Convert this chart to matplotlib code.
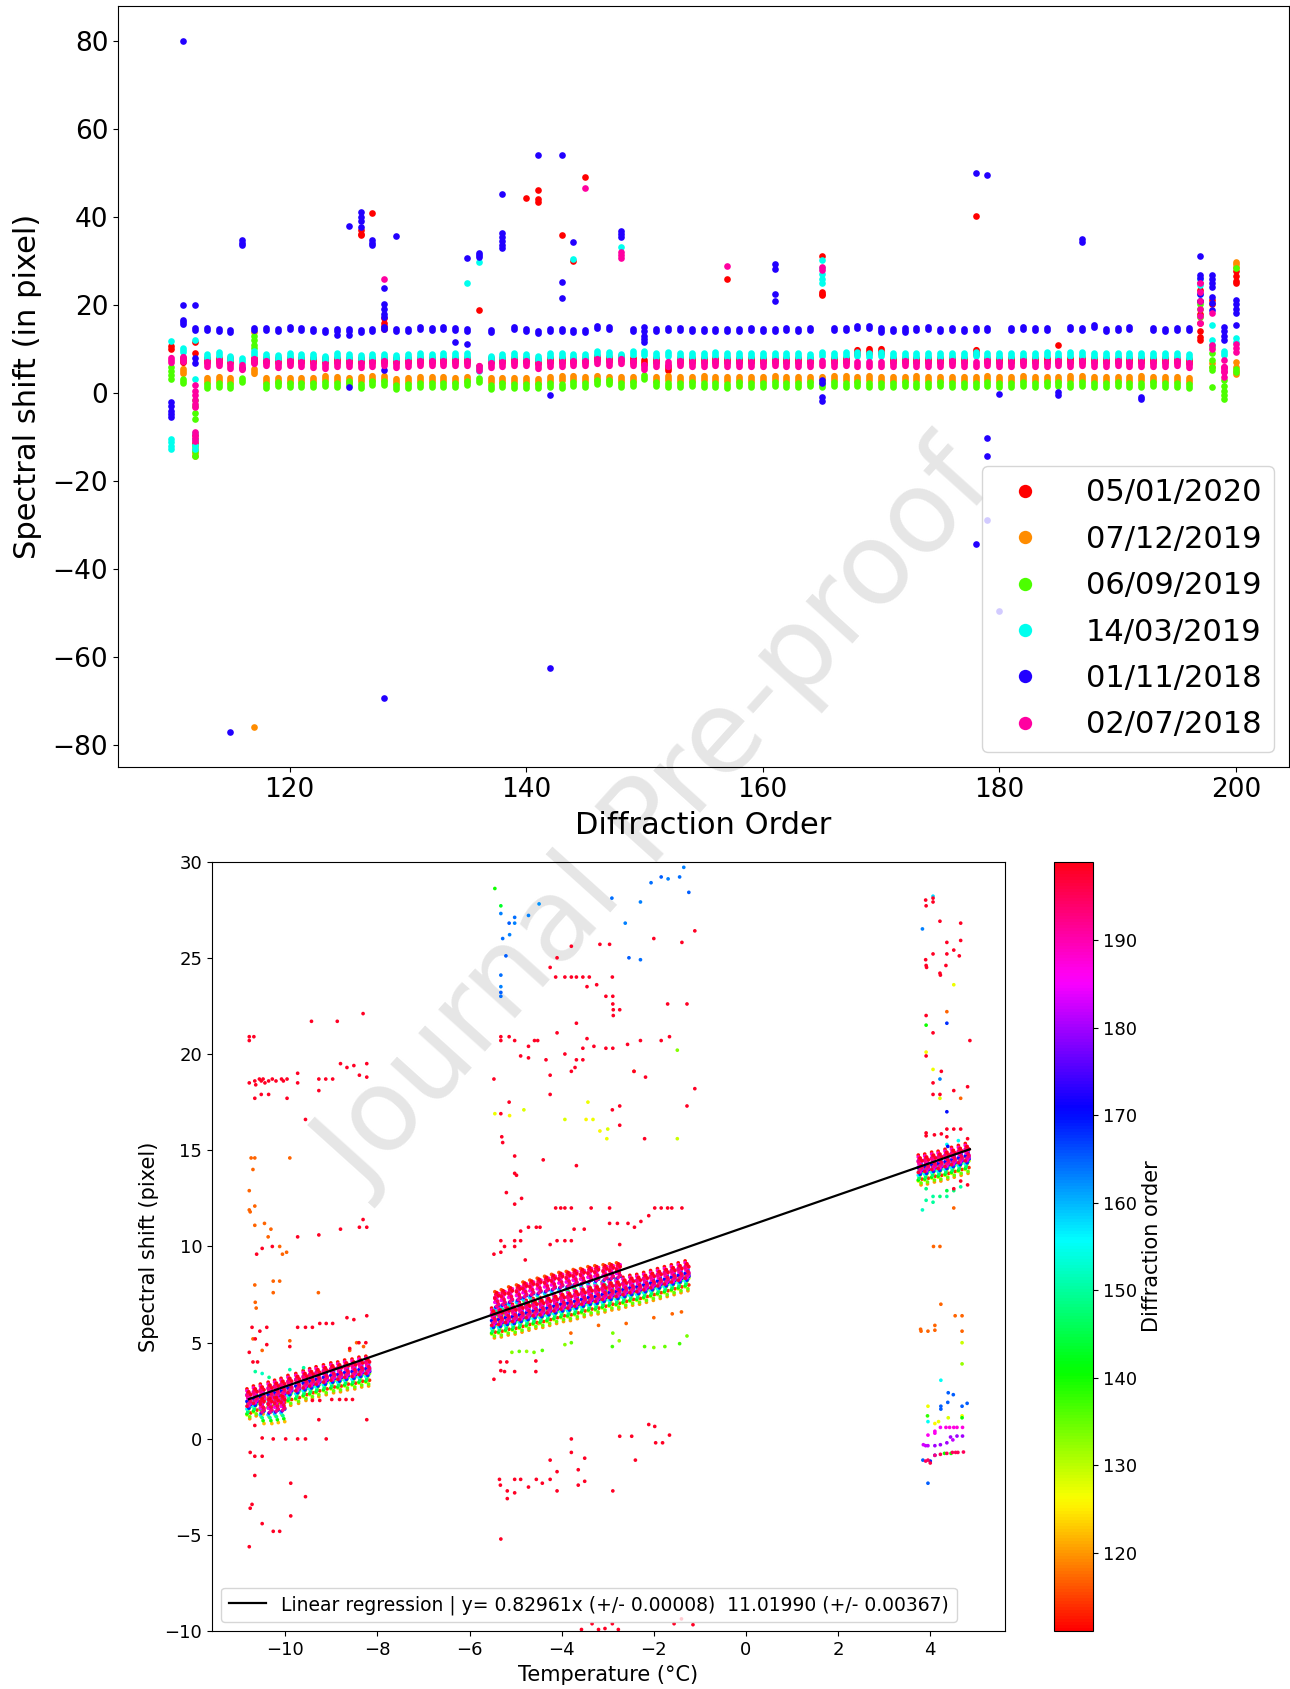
import numpy as np
import matplotlib
matplotlib.use('Agg')
import matplotlib.pyplot as plt
from matplotlib.path import Path
from matplotlib.lines import Line2D

nan = float('nan')

# ======================= TOP PANEL DATA =======================
orders = list(range(110, 201))
dates = ['05/01/2020', '07/12/2019', '06/09/2019', '14/03/2019', '01/11/2018', '02/07/2018']
series_colors = ['#ff0000', '#ff8c00', '#4cff00', '#00ffee', '#2200ff', '#ff00a0']

# main band value per diffraction order (110..200), one list per date
band_red = [nan, 7.6, nan, 7.5, 7.6, 7.4, nan, 7.6, 7.5, 7.5,
            7.6, 7.5, 7.4, 7.4, 7.6, 7.5, 7.4, 7.5, 7.6, 7.4,
            7.5, 7.6, 7.6, 7.6, 7.6, 7.6, nan, 7.4, 7.5, 7.6,
            7.6, 7.2, 7.5, 7.5, 7.5, 7.6, 7.9, 7.7, 7.9, 7.6,
            7.0, 7.5, 5.8, 7.6, 7.5, 7.5, 7.6, 7.4, 7.5, 7.5,
            7.5, 7.6, 7.5, 7.5, 7.4, nan, 7.5, 7.6, 9.4, 9.5,
            9.5, 7.4, 7.6, 7.5, 7.4, 7.5, 7.6, 7.5, 9.4, 7.6,
            7.5, 7.4, 7.6, 7.5, 7.5, 7.6, 7.5, 7.6, 7.4, 7.5,
            7.6, 7.5, 7.5, 7.4, 7.5, 7.6, 7.2, nan, nan, nan,
            nan]
band_orange = [nan, 4.9, nan, 3.0, 3.1, 3.0, nan, 4.9, 3.0, 3.0,
               3.0, 3.0, 3.0, 3.4, 3.1, 3.0, 3.1, 3.4, 3.4, 2.7,
               3.0, 3.1, 3.1, 3.1, 3.0, 3.1, nan, 3.0, 3.0, 3.0,
               3.0, 2.7, 3.1, 3.4, 3.4, 3.1, 3.5, 3.1, 3.1, 3.1,
               nan, 3.2, 3.4, 3.1, 3.2, 3.4, 3.3, 3.1, 3.2, 3.3,
               3.1, 3.4, 3.2, 3.1, 3.3, 3.2, 3.4, 3.4, 3.3, 3.4,
               3.3, 3.2, 3.3, 3.4, 3.2, 3.3, 3.1, 3.3, 3.2, 3.4,
               3.2, 3.3, 3.4, 3.3, 3.1, 3.3, 3.4, 3.4, 3.2, 3.3,
               3.2, 3.3, 3.4, 3.3, 3.1, 3.2, 3.0, nan, nan, nan,
               nan]
band_green = [nan, 2.8, nan, 1.6, 1.8, 1.7, 3.0, nan, 1.6, 2.0,
              1.8, 1.8, 1.8, 2.0, 1.8, 2.2, 1.7, 2.2, 2.2, 1.4,
              1.6, 1.8, 1.8, 1.8, 1.8, 2.2, 3.0, 1.3, 1.8, 1.7,
              1.7, 1.6, 1.8, 1.6, 2.0, 1.8, 2.6, 2.4, 1.8, 2.0,
              3.6, 2.0, 1.8, 1.9, 2.0, 1.8, 1.9, 1.7, 2.0, 1.8,
              1.9, 2.0, 1.8, 1.9, 2.1, 1.9, 2.0, 1.8, 2.0, 1.9,
              1.8, 1.9, 2.0, 1.8, 1.9, 2.0, 1.8, 1.9, 1.8, 2.0,
              1.9, 1.9, 2.0, 1.8, 2.1, 2.0, 1.9, 2.0, 1.9, 1.8,
              2.0, 1.9, 1.9, 2.0, 1.8, 1.9, 1.5, nan, nan, nan,
              nan]
band_cyan = [nan, 9.7, nan, 8.4, 8.9, 7.9, 7.4, 9.2, 8.5, 8.2,
             8.7, 8.5, 8.3, 7.9, 8.6, 8.5, 8.1, 8.3, 8.5, 8.2,
             8.3, 8.7, 8.5, 8.7, 8.7, 8.7, 5.4, 7.9, 8.5, 8.7,
             8.5, 7.9, 8.7, 8.7, 8.3, 8.5, 9.1, 8.9, 8.5, 9.1,
             9.1, 8.7, 8.9, 8.6, 8.7, 8.6, 8.9, 8.6, 8.7, 8.6,
             8.7, 8.6, 8.7, 8.6, 8.5, 8.8, 8.7, 8.9, 8.8, 8.7,
             8.8, 8.6, 8.7, 8.6, 8.7, 8.6, 8.7, 8.6, 8.8, 8.7,
             8.6, 8.7, 8.7, 8.6, 8.8, 8.7, 8.8, 8.9, 8.7, 8.6,
             8.7, 8.7, 8.6, 8.7, 8.6, 8.6, 8.5, nan, nan, 9.0,
             nan]
band_blue = [nan, 15.8, 14.5, 14.6, 14.4, 14.2, nan, 14.6, 14.6, 14.3,
             14.8, 14.6, 14.3, 14.2, 14.4, 14.3, 14.0, 14.3, 14.8, 14.3,
             14.3, 14.7, 14.6, 14.7, 14.6, 14.3, nan, 14.2, nan, 14.7,
             14.3, 13.8, 14.4, 14.4, 14.2, 14.2, 15.0, 14.8, nan, 14.3,
             nan, 14.4, 14.6, 14.6, 14.3, 14.4, 14.3, 14.4, 14.4, 14.65,
             14.4, 14.3, 14.65, 14.4, 14.5, nan, 14.5, 14.65, 14.9, 14.9,
             14.65, 14.4, 14.65, 14.65, 14.8, 14.4, 14.65, 14.4, 14.5, 14.65,
             nan, 14.65, 14.8, 14.65, 14.65, nan, 14.8, 14.65, 15.2, 14.4,
             14.65, 14.8, nan, 14.65, 14.3, 14.5, 14.5, nan, nan, nan,
             nan]
band_pink = [7.4, 7.7, nan, 6.6, 6.8, 6.2, 6.0, 7.3, 6.8, 6.4,
             6.8, 6.6, 6.3, 6.2, 6.6, 6.6, 6.4, 6.6, 6.8, 6.4,
             6.6, 6.9, 6.8, 6.8, 6.8, 6.8, 5.6, 6.3, 6.6, 6.8,
             6.8, 6.2, 6.6, 6.6, 6.8, 6.8, 7.2, 6.9, 7.2, 6.8,
             6.0, 6.7, 6.5, 6.8, 6.6, 6.7, 6.8, 6.6, 6.7, 6.6,
             6.7, 6.8, 6.6, 6.7, 6.6, 6.8, 6.7, 6.8, 6.7, 6.6,
             6.7, 6.6, 6.8, 6.7, 6.6, 6.7, 6.8, 6.7, 6.7, 6.8,
             6.7, 6.6, 6.8, 6.7, 6.7, 6.8, 6.7, 6.8, 6.6, 6.7,
             6.8, 6.7, 6.7, 6.6, 6.7, 6.8, 6.4, nan, nan, 5.5,
             nan]

# isolated points (order, shift) per date
ex_red_o = [110, 110, 112, 112, 112, 112, 112, 126, 126, 126, 127, 128, 128, 128, 128,
            136, 136, 140, 141, 141, 141, 143, 144, 145, 157, 165, 165, 165, 165, 178, 185,
            197, 197, 197, 197, 197, 197, 197, 197, 198, 198, 200, 200, 200, 200]
ex_red_v = [10.6, 10.1, 11.6, 9.2, -9.5, -10.5, -11.3, 37.0, 36.2, 35.9, 40.8, 17.0, 16.0, 15.2, 14.6,
            18.9, 6.2, 44.3, 46.1, 44.0, 43.4, 35.9, 30.0, 49.1, 26.0, 31.2, 23.0, 22.5, 22.2, 40.2, 10.8,
            24.9, 23.5, 21.0, 18.0, 16.0, 14.0, 12.8, 12.0, 21.1, 20.2, 27.6, 26.5, 25.5, 24.9]
ex_orange_o = [112, 112, 112, 117, 117, 198, 198, 200, 200, 200, 200, 200, 200, 200]
ex_orange_v = [-12.8, -13.6, -14.4, -75.8, 13.8, 6.8, 6.0, 29.8, 29.2, 28.7, 7.0, 6.0, 5.0, 4.4]
ex_green_o = [110, 110, 110, 110, 112, 112, 112, 112, 112, 112, 112, 117, 117, 117, 117,
              197, 197, 197, 198, 198, 198, 198, 198, 198, 199, 199, 199, 199, 199, 200, 200, 200]
ex_green_v = [6.0, 5.0, 4.0, 3.2, -1.6, -3.0, -4.5, -5.8, -12.0, -13.2, -14.3, 12.9, 12.0, 11.0, 10.2,
              20.3, 19.0, 17.3, 10.5, 9.0, 7.5, 6.0, 5.2, 1.4, 2.9, 1.5, 0.5, -0.5, -1.3, 28.3, 5.5, 4.8]
ex_cyan_o = [110, 110, 110, 110, 110, 112, 112, 112, 112, 112, 112, 135, 136, 144, 148,
             165, 165, 165, 165, 165, 197, 197, 197, 198, 198, 198, 200, 200]
ex_cyan_v = [11.8, -10.4, -11.2, -12.0, -12.6, 12.0, 3.2, -9.0, -10.5, -11.8, -12.6, 24.9, 29.8, 30.4, 33.2,
             30.2, 28.5, 27.0, 25.8, 24.9, 26.0, 24.5, 22.5, 15.4, 12.0, 11.0, 12.4, 11.6]
ex_blue_o = [110, 110, 110, 110, 110,
             111, 111, 111, 112, 112, 112, 115,
             116, 116, 116, 116, 124, 125, 125, 125,
             126, 126, 126, 126, 127, 127, 127,
             128, 128, 128, 128, 128, 128, 128,
             129, 134, 135, 135, 136, 136, 136,
             138, 138, 138, 138, 138, 138,
             141, 142, 142, 143, 143, 143, 144,
             148, 148, 148, 150, 150, 150, 150, 150,
             161, 161, 161, 161, 165, 165, 165, 165, 170, 172,
             178, 178, 179, 179, 179, 179, 180, 180,
             185, 185, 187, 187, 192, 192,
             197, 197, 197, 197, 197,
             198, 198, 198, 198, 198, 198, 198,
             199, 199, 199, 199,
             200, 200, 200, 200, 200]
ex_blue_v = [-2.0, -3.0, -4.0, -4.8, -5.5,
             80.0, 19.9, 16.5, 19.9, 8.0, 6.8, -77.0,
             34.8, 34.0, 33.6, 5.6, 13.1, 38.0, 13.1, 1.3,
             41.1, 40.0, 39.0, 37.8, 34.8, 34.0, 33.6,
             23.8, 20.3, 19.0, 18.0, 17.3, 5.2, -69.3,
             35.7, 11.5, 30.7, 11.2, 31.9, 31.3, 31.0,
             45.2, 36.3, 35.5, 34.6, 33.6, 32.9,
             54.0, -62.4, -0.5, 54.0, 25.2, 21.6, 34.2,
             36.7, 36.0, 35.5, 15.0, 14.0, 13.0, 12.2, 11.6,
             29.4, 28.1, 22.6, 20.9, 2.9, 2.2, -1.0, -1.7, 13.8, 13.8,
             49.9, -34.3, 49.6, -10.2, -14.3, -28.8, -49.4, -0.2,
             0.2, -0.5, 34.9, 34.2, -0.9, -1.3,
             31.1, 26.8, 26.2, 22.6, 21.0,
             26.8, 26.0, 24.9, 24.1, 21.9, 20.5, 18.8,
             15.0, 14.0, 13.0, 12.0,
             21.1, 20.2, 19.0, 18.1, 15.4]
ex_pink_o = [112, 112, 112, 112, 112, 112, 112, 112, 112, 112,
             128, 145, 148, 148, 148, 157, 165, 165,
             197, 197, 197, 197, 197, 197,
             198, 198, 198, 199, 199, 199, 199, 200, 200, 200]
ex_pink_v = [1.8, 0.5, -0.5, -1.5, -2.5, -3.1, -8.8, -9.5, -10.3, -11.0,
             25.8, 46.5, 32.0, 31.3, 30.7, 28.8, 28.7, 27.9,
             24.9, 23.0, 21.0, 19.0, 17.5, 15.8,
             18.1, 10.9, 10.1, 7.4, 6.0, 4.8, 3.6, 11.2, 10.2, 9.3]

# ======================= BOTTOM PANEL DATA =======================
slope, intercept = 0.82961, 11.01990
line_T = [-10.79, 4.86]

# measurement columns (temperature, central shift) of the dense bands
A_T = [-10.79, -10.65, -10.50, -10.33, -10.19, -10.05, -9.90, -9.73, -9.57,
       -9.43, -9.29, -9.13, -8.97, -8.82, -8.67, -8.51, -8.36, -8.21]
A_V = [2.15, 2.3, 2.4, 2.5, 2.6, 2.7, 2.85, 2.95, 3.1,
       3.2, 3.3, 3.4, 3.5, 3.55, 3.65, 3.7, 3.8, 3.85]
A2_T = [-10.50, -10.33, -10.19, -10.05]
A2_V = [1.75, 1.75, 1.8, 1.85]
Bup_T = [-5.41, -5.27, -5.11, -4.94, -4.80, -4.65, -4.49, -4.33, -4.18,
         -4.02, -3.86, -3.71, -3.55, -3.39, -3.24, -3.06, -2.92, -2.77]
Bup_V = [7.25, 7.35, 7.5, 7.6, 7.75, 7.85, 7.95, 8.05, 8.15,
         8.25, 8.3, 8.4, 8.45, 8.55, 8.6, 8.65, 8.7, 8.75]
Blo_T = [-5.48, -5.33, -5.18, -5.03, -4.88, -4.73, -4.58, -4.43, -4.28, -4.13,
         -3.98, -3.83, -3.68, -3.53, -3.38, -3.23, -3.08, -2.93, -2.78, -2.63,
         -2.48, -2.33, -2.18, -2.03, -1.88, -1.73, -1.58, -1.43, -1.28]
Blo_V = [6.35, 6.4, 6.5, 6.55, 6.65, 6.75, 6.85, 6.9, 7.0, 7.1,
         7.2, 7.25, 7.35, 7.45, 7.55, 7.6, 7.7, 7.8, 7.85, 7.95,
         8.05, 8.1, 8.2, 8.3, 8.4, 8.5, 8.6, 8.7, 8.8]
C_T = [3.78, 3.92, 4.07, 4.21, 4.36, 4.50, 4.65, 4.80]
C_V = [14.3, 14.35, 14.45, 14.5, 14.6, 14.7, 14.8, 14.9]

# per-order spread inside one column (order, dT, dShift)
fp_ord = [199, 198, 197, 196, 195, 194, 193, 192, 191, 190,
          189, 188, 187, 186, 184, 182, 180, 178, 176, 174,
          172, 170, 168, 165, 162, 159, 156, 153, 150, 147,
          144, 141, 138, 135, 132, 129, 126, 123, 120, 117,
          114, 112]
fp_dT = [0.00, 0.04, -0.04, 0.02, -0.02, 0.04, -0.04, 0.00, 0.02, -0.02,
         0.04, -0.04, 0.00, 0.02, -0.02, 0.04, -0.04, 0.00, 0.02, -0.02,
         0.04, -0.04, 0.00, 0.02, -0.02, 0.04, -0.04, 0.00, 0.02, -0.02,
         0.04, -0.04, 0.00, 0.02, -0.02, 0.04, -0.04, 0.00, 0.02, -0.02,
         0.04, -0.04]
fp_dV = [0.30, 0.15, -0.45, -0.10, 0.25, -0.20, 0.10, -0.30, 0.20, 0.00,
         -0.15, 0.35, -0.40, 0.10, -0.05, -0.30, 0.15, -0.45, -0.10, 0.05,
         -0.35, -0.20, -0.55, 0.00, -0.40, -0.25, -0.60, -0.15, -0.50, -0.75,
         -0.35, -0.85, -0.55, -1.00, -0.70, -0.45, -0.90, -0.60, -1.10, -0.30,
         -0.80, 0.45]
up_ord = [199, 198, 197, 196, 195, 194, 193, 192, 191, 190, 188,
          186, 183, 179, 174, 166, 158, 149, 140, 131, 122, 116]
up_dT = [0.00, 0.04, -0.04, 0.02, -0.02, 0.04, -0.04, 0.00, 0.02, -0.02, 0.04,
         -0.04, 0.00, 0.02, -0.02, 0.04, -0.04, 0.00, 0.02, -0.02, 0.04, -0.04]
up_dV = [0.35, 0.20, 0.05, -0.10, 0.25, -0.25, 0.10, -0.35, 0.15, -0.05, 0.30,
         -0.15, 0.00, -0.20, -0.40, -0.30, -0.50, -0.65, -0.80, -0.60, -0.95, 0.40]

# scattered points: high-order (red) outliers
redA_T = [-10.78, -10.78, -10.68,
          -10.78, -10.66, -10.64, -10.56, -10.52, -10.48, -10.44, -10.36, -10.28, -10.20, -10.08, -10.04, -9.96,
          -10.66, -10.52, -10.36, -9.96, -9.73, -9.73, -9.56, -9.43, -8.87, -8.31,
          -9.27, -9.27, -9.12, -8.97, -8.80, -8.66, -8.51, -8.39, -8.23, -8.23,
          -10.62, -10.50, -10.28, -9.73, -9.27, -8.80, -8.39, -8.31, -8.23,
          -10.72, -10.55, -10.40, -9.73, -9.56, -9.41, -9.25, -9.11, -8.97, -8.66, -8.51, -8.23,
          -10.78, -10.70, -10.60, -10.65, -10.40, -9.90, -8.60, -8.40, -8.25,
          -10.50, -10.26, -9.99, -9.73, -9.56, -9.11, -10.76, -10.66, -10.50, -10.66,
          -9.88, -9.56, -9.88, -10.26, -10.12, -10.50, -10.76, -10.72, -10.78, -9.27, -8.23, -10.66,
          -9.41, -9.25, -8.99, -8.82, -8.68, -8.54]
redA_V = [20.9, 20.7, 20.9,
          18.5, 18.6, 18.4, 18.7, 18.6, 18.7, 18.5, 18.6, 18.7, 18.6, 18.7, 18.6, 18.7,
          17.7, 17.9, 17.9, 17.7, 19.0, 18.5, 16.6, 21.7, 21.7, 22.1,
          18.7, 18.1, 18.7, 18.7, 19.5, 19.3, 19.4, 18.9, 19.5, 18.8,
          9.6, 9.9, 10.0, 10.5, 10.6, 10.9, 11.0, 11.4, 11.0,
          5.8, 5.6, 5.8, 5.8, 5.8, 5.8, 6.0, 6.0, 6.0, 6.3, 6.2, 6.4,
          4.5, 4.0, 4.0, 5.2, 4.9, 4.8, 4.7, 5.0, 5.0,
          0.05, 0.0, 0.0, 0.0, 0.0, 0.0, -0.7, -0.9, -0.9, -1.9,
          -2.3, -3.0, -4.0, -4.8, -4.8, -4.4, -3.6, -3.4, -5.6, 1.0, 1.0, 0.7,
          2.0, 2.0, 2.05, 2.05, 2.05, 2.05]
redB_T = [-5.47, -5.32, -5.32, -5.14, -5.02, -5.14, -5.32, -5.30, -5.28, -5.02, -5.02, -4.98, -5.20, -4.87, -5.02,
          -5.47, -5.32, -5.32, -5.24, -5.02, -5.02, -4.89, -4.89, -4.79,
          -4.89, -4.72, -4.72, -4.59, -4.52, -4.34, -4.40, -4.25, -4.25, -4.10, -3.93, -3.79, -3.71, -3.68, -3.68,
          -3.54, -3.54, -3.45, -3.30, -3.04, -2.88, -2.88, -2.89, -2.74, -2.89, -3.04, -3.24, -3.45, -3.54, -3.40,
          -3.68, -3.79, -3.93, -4.13, -4.25, -4.10, -3.79, -3.17, -2.96, -2.90, -2.89, -2.90, -2.74, -2.74, -2.57,
          -2.43, -2.18, -2.29, -2.00, -1.84, -1.70, -1.66, -1.28, -1.39, -1.11, -1.28, -2.20, -1.11, -3.68,
          -4.13, -4.02, -3.93, -3.79, -3.36, -2.96, -1.98, -1.84, -1.70, -1.61, -1.39, -2.79, -2.56, -2.42, -2.28,
          -2.11, -4.72, -4.55, -4.47, -3.79, -3.93, -4.10, -4.25, -3.73, -3.51, -2.74, -2.96,
          -5.47, -5.32, -5.35, -5.33, -5.18, -5.18, -5.02, -5.02, -4.89, -4.72, -4.55, -4.42, -4.25, -4.10, -4.10,
          -4.25, -3.79, -3.79, -3.64, -3.64, -3.50, -3.50, -2.89, -2.74, -2.48, -2.40, -2.11, -1.98, -1.96, -1.81, -1.66,
          -5.32, -5.24, -5.02, -5.33, -5.19, -4.56, -4.56,
          -3.57, -3.20, -3.06, -2.90, -2.77, -3.34, -1.56, -1.40, -1.15]
redB_V = [18.7, 20.9, 20.7, 20.9, 20.7, 17.5, 16.9, 15.7, 15.4, 14.7, 13.8, 13.7, 12.8, 12.5, 12.2,
          9.6, 10.3, 9.7, 10.0, 10.3, 10.0, 10.8, 10.3, 9.3,
          19.9, 19.8, 20.4, 20.7, 20.7, 19.7, 14.5, 17.9, 18.9, 21.1, 20.0, 19.1, 19.3, 19.7, 21.6,
          19.7, 20.3, 20.8, 20.4, 20.3, 22.0, 22.3, 22.6, 22.3, 23.0, 23.0, 23.6, 23.5, 24.0, 24.0,
          24.0, 24.0, 24.0, 24.0, 24.5, 25.0, 25.6, 25.7, 25.7, 24.0, 20.3, 17.1, 17.3, 16.3, 20.5,
          19.1, 18.8, 20.7, 26.0, 20.7, 22.6, 20.9, 22.6, 25.8, 26.4, 17.3, 15.6, 18.2, 14.2,
          12.0, 12.0, 12.0, 12.0, 12.0, 12.0, 12.0, 12.0, 12.0, 12.0, 12.0, 11.2, 11.2, 11.0, 11.3,
          11.6, 11.0, 11.0, 11.0, 10.3, 10.3, 10.3, 10.1, 10.9, 10.9, 10.1, 11.2,
          3.1, -5.2, -2.1, -2.4, -2.7, -3.1, -2.1, -2.8, -2.1, -2.5, -2.1, -2.3, -2.1, -1.7, -2.7,
          -1.1, 0.0, -0.7, -1.6, -2.4, -1.0, -2.2, -2.7, 0.14, 0.14, -1.1, 0.75, 0.65, -0.2, -0.2, 0.2,
          3.55, 3.5, 3.5, 4.0, 4.0, 3.5, 4.05,
          -9.9, -9.9, -9.85, -9.6, -9.9, -9.6, -9.6, -9.35, -9.65]
redC_T = [3.90, 3.91, 4.06, 4.06, 4.21, 4.66, 4.36, 4.66, 4.51, 4.36, 4.63, 4.06, 3.90, 3.91, 3.92, 4.34, 4.21, 4.22,
          3.91, 4.06, 4.86, 3.91, 4.24, 4.06, 4.06, 4.21, 4.51, 4.81, 4.36, 4.51, 4.66, 3.91, 3.91, 4.09, 4.24, 4.36,
          4.81, 4.66, 4.51, 4.81]
redC_V = [28.0, 27.7, 28.1, 27.9, 26.9, 26.8, 25.8, 25.9, 25.4, 25.2, 25.1, 25.2, 24.9, 24.6, 24.5, 24.6, 24.2, 24.1,
          22.0, 21.1, 20.7, 19.9, 19.1, 18.5, 17.9, 17.9, 18.1, 18.3, 16.1, 16.1, 16.1, 15.9, 15.75, 15.8, 15.85, 15.7,
          15.6, 13.4, 13.0, 13.2]
red_order = 198

# scattered points: low-order (orange) outliers
orng_T = [-10.78, -10.78, -10.76, -10.74, -10.66, -10.70, -10.66, -10.66, -10.45, -10.31, -10.37, -10.12, -10.06, -9.97, -9.90,
          -10.66, -10.65, -10.63, -10.26, -10.12, -10.26, -9.28, -10.70, -10.50, -9.90, -8.60, -8.45, -8.30,
          -2.43, -4.90, -4.50, -5.20, -3.80, -3.20, -2.60, -2.00, -1.60, -1.40,
          4.36, 4.66, 4.51, 4.07, 4.21, 4.23, 4.54, 4.69, 4.69, 3.95, 4.10, 4.10, 3.79, 3.80]
orng_V = [12.9, 11.9, 11.8, 14.6, 14.6, 14.0, 12.1, 11.1, 11.2, 10.9, 10.5, 10.0, 9.6, 9.7, 14.6,
          8.0, 7.1, 6.8, 8.2, 8.2, 7.6, 7.6, 5.2, 4.6, 5.1, 4.6, 5.0, 4.8,
          19.1, 6.2, 6.0, 6.0, 5.5, 5.9, 6.0, 6.3, 6.5, 6.6,
          22.2, 17.7, 12.0, 10.0, 10.0, 7.0, 6.4, 6.4, 5.6, 5.6, 5.65, 5.9, 5.7, 5.6]
orng_order = 117

# scattered points with individual orders
misc_T = [-5.45, -5.13, -4.82, -3.43, -3.93, -3.47, -3.32, -3.17, -3.00, -3.02, -1.49,
          4.51, 3.91, 4.06, 4.21, 4.69, 3.95, 4.10, 4.18, 4.39, 4.69,
          -5.45, -5.32, -1.49, 3.91, 4.69, 3.94, 4.69, 4.31, 4.45,
          -5.08, -4.92, -4.76, -4.60, -4.42, -3.93, -3.79, -2.90, -2.75, -2.89, -2.20, -2.00, -1.76, -1.44, -1.28,
          -10.65, -10.50, -10.35, -9.90, -9.60,
          -5.32, -5.02, -5.02, -5.14, -5.28, -5.13, -5.21, -5.32, -5.32, -5.32, -5.32, -4.72, -4.49,
          -2.91, -2.62, -2.54, -2.29, -2.29, -2.06, -1.84, -1.69, -1.44, -1.35, -1.24,
          4.06, 3.83, 4.36, 4.21, 4.36, 4.61, 4.36, 4.38, 4.23, 4.39, 4.50, 4.23, 4.23, 4.38, 4.69, 4.80, 3.95, 3.84, 3.95, 4.00, 4.10,
          4.22, 4.34, 4.42, 4.51, 4.58, 4.70, 3.95, 4.10, 4.10, 3.85, 3.90, 3.95, 4.10, 4.22, 4.36, 4.44, 4.49, 4.58, 4.70,
          4.10, 4.22, 4.36, 4.48, 4.55, 4.60, 4.72, 3.90, 3.95, 4.00,
          3.91, 3.91, 4.06, 4.21, 4.36, 4.06, 3.83, 4.36, 4.51, 4.66]
misc_V = [16.9, 16.8, 17.1, 17.5, 16.6, 16.6, 16.6, 16.0, 16.1, 15.6, 15.6,
          23.6, 20.1, 19.2, 17.7, 5.0, 1.7, 0.8, 0.9, 1.1, 1.2,
          28.6, 27.7, 20.2, 21.5, 3.9, 1.2, 1.1, -0.75, -0.75,
          4.5, 4.55, 4.55, 4.5, 4.6, 4.9, 5.0, 4.8, 5.1, 5.5, 4.8, 4.75, 4.8, 4.95, 5.35,
          3.5, 3.4, 3.2, 3.6, 3.7,
          27.3, 27.1, 26.8, 26.8, 26.0, 26.2, 25.1, 24.1, 23.5, 23.2, 23.0, 27.2, 27.8,
          28.1, 26.8, 25.0, 24.9, 27.9, 28.9, 29.2, 29.1, 29.2, 29.7, 28.4,
          28.2, 26.5, 21.6, 18.7, 17.0, 15.5, 15.3, 15.2, 3.05, 2.4, 2.3, 1.7, 1.55, 1.9, 1.7, 1.85, 0.9, -1.1, -2.3, -1.15, -0.85,
          0.6, 0.6, 0.6, 0.6, 0.6, 0.6, 0.2, 0.4, 0.3, -0.3, -0.35, -0.35, -0.35, -0.3, -0.2, 0.1, -0.05, 0.15, 0.15,
          -0.85, -0.8, -0.75, -0.7, -0.7, -0.7, -0.68, -1.15, -1.1, -1.25,
          13.0, 12.4, 12.6, 12.6, 12.6, 12.3, 11.9, 12.9, 12.9, 13.1]
misc_ord = [127, 126, 128, 127, 128, 126, 127, 126, 128, 127, 129,
            127, 126, 127, 128, 129, 127, 126, 127, 128, 127,
            140, 143, 133, 140, 132, 138, 140, 140, 140,
            133, 135, 132, 134, 136, 133, 135, 137, 132, 134, 136, 133, 135, 137, 134,
            150, 152, 149, 151, 150,
            163, 164, 163, 165, 164, 163, 165, 164, 163, 165, 164, 163, 162,
            164, 163, 165, 164, 163, 164, 165, 163, 164, 163, 165,
            158, 163, 168, 163, 170, 155, 155, 170, 155, 165, 165, 165, 165, 165, 165, 165, 155, 165, 165, 168, 168,
            185, 187, 187, 187, 187, 187, 186, 186, 186, 183, 182, 182, 180, 180, 180, 180, 182, 180, 180,
            193, 195, 195, 195, 195, 195, 195, 195, 195, 196,
            148, 150, 150, 148, 150, 150, 152, 145, 148, 150]

# ======================= FIGURE =======================
fig = plt.figure(figsize=(12.9, 16.89), dpi=100)
fig.patch.set_facecolor('white')

# ---------- top panel ----------
ax1 = fig.add_axes([0.0915, 0.5459, 0.9078, 0.4506])
ax1.set_facecolor('none')


def capsule(ratio):
    r = ratio / 2.0
    th = np.linspace(0, np.pi, 18)
    top = np.column_stack([r * np.cos(th), 0.5 - r + r * np.sin(th)])
    bot = np.column_stack([-r * np.cos(th), -0.5 + r - r * np.sin(th)])
    verts = np.vstack([top, bot, top[:1]])
    return Path(verts, closed=True)


bands = [band_red, band_orange, band_green, band_cyan, band_blue, band_pink]
extras = [(ex_red_o, ex_red_v), (ex_orange_o, ex_orange_v), (ex_green_o, ex_green_v),
          (ex_cyan_o, ex_cyan_v), (ex_blue_o, ex_blue_v), (ex_pink_o, ex_pink_v)]
blob_h = [8.0, 8.0, 7.5, 7.5, 6.3, 8.1]   # marker heights (pt)
blob_w = 4.8
for band, (eo, ev), col, h in zip(bands, extras, series_colors, blob_h):
    ax1.plot(orders, band, ls='none', marker=capsule(blob_w / h), ms=h,
             mfc=col, mec='none')
    ax1.plot(eo, ev, ls='none', marker='o', ms=4.8, mfc=col, mec='none')

ax1.set_xlim(105.5, 204.5)
ax1.set_ylim(-84.9, 87.9)
ax1.set_xticks([120, 140, 160, 180, 200])
ax1.set_yticks([-80, -60, -40, -20, 0, 20, 40, 60, 80])
ax1.tick_params(labelsize=19)
ax1.set_xlabel('Diffraction Order', fontsize=22, labelpad=6)
ax1.set_ylabel('Spectral shift (in pixel)', fontsize=22, labelpad=8)
handles = [Line2D([], [], ls='none', marker='o', ms=9.6, mfc=c, mec='none') for c in series_colors]
ax1.legend(handles, dates, loc='lower right', fontsize=22, labelspacing=0.57,
           handletextpad=1.0)

# ---------- bottom panel ----------
ax2 = fig.add_axes([0.1643, 0.0341, 0.6147, 0.4558])
ax2.set_facecolor('none')


def expand(colT, colV, fo, fdT, fdV):
    T = (np.asarray(colT)[:, None] + np.asarray(fdT)[None, :]).ravel()
    V = (np.asarray(colV)[:, None] + np.asarray(fdV)[None, :]).ravel()
    O = np.tile(np.asarray(fo, dtype=float), len(colT))
    return T, V, O


parts = [expand(A_T, A_V, fp_ord, fp_dT, fp_dV),
         expand(A2_T, A2_V, up_ord, up_dT, up_dV),
         expand(Blo_T, Blo_V, fp_ord, fp_dT, fp_dV),
         expand(Bup_T, Bup_V, up_ord, up_dT, up_dV),
         expand(C_T, C_V, fp_ord, fp_dT, fp_dV)]
redT = redA_T + redB_T + redC_T
redV = redA_V + redB_V + redC_V
parts.append((np.array(redT), np.array(redV), np.full(len(redT), float(red_order))))
parts.append((np.array(orng_T), np.array(orng_V), np.full(len(orng_T), float(orng_order))))
parts.append((np.array(misc_T), np.array(misc_V), np.array(misc_ord, dtype=float)))

allT = np.concatenate([p[0] for p in parts])
allV = np.concatenate([p[1] for p in parts])
allO = np.concatenate([p[2] for p in parts])
idx = np.argsort(allO, kind='stable')

sc = ax2.scatter(allT[idx], allV[idx], c=allO[idx], cmap='hsv', vmin=111, vmax=199,
                 s=7, linewidths=0)
lt = np.asarray(line_T)
ax2.plot(lt, slope * lt + intercept, color='k', lw=1.6,
         label='Linear regression | y= 0.82961x (+/- 0.00008)  11.01990 (+/- 0.00367)')
ax2.set_xlim(-11.59, 5.62)
ax2.set_ylim(-10, 30)
ax2.set_xticks([-10, -8, -6, -4, -2, 0, 2, 4])
ax2.tick_params(labelsize=13)
ax2.set_xlabel('Temperature (°C)', fontsize=15)
ax2.set_ylabel('Spectral shift (pixel)', fontsize=15)
ax2.legend(loc='lower left', fontsize=13.5)

cax = fig.add_axes([0.8171, 0.0341, 0.0302, 0.4558])
cb = fig.colorbar(sc, cax=cax)
cb.set_ticks([120, 130, 140, 150, 160, 170, 180, 190])
cb.ax.tick_params(labelsize=13)
cb.set_label('Diffraction order', fontsize=15)

# watermark
fig.text(0.51, 0.515, 'Journal Pre-proof', fontsize=82, rotation=48, color='#e6e6e6',
         ha='center', va='center', zorder=-1)

fig.savefig('out.png', dpi=100)
